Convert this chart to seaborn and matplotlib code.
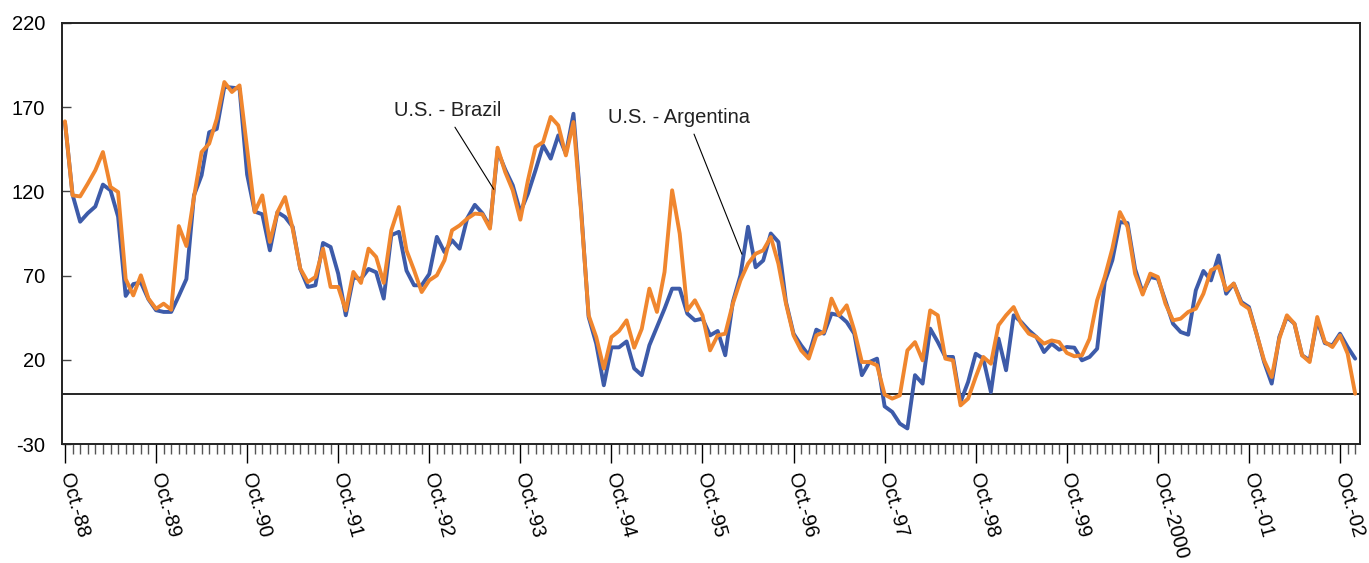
import numpy as np
import pandas as pd
import matplotlib
matplotlib.use("Agg")
import matplotlib.pyplot as plt
import seaborn as sns

# monthly values, Oct-88 .. Dec-02
brazil = [161, 118, 102, 107, 111, 124, 120.6, 105, 58, 65, 66, 56,
          49.5, 48.5, 48.5, 58, 68, 117.6, 129.5, 155, 157, 182, 181.5, 181,
          130, 108, 106.4, 85, 107.7, 104.8, 99, 74, 63.3, 64.3, 89.4, 87,
          71.2, 46.5, 69, 68, 74, 72, 56.4, 94, 96, 73, 64.3, 64.3,
          71, 93, 84, 91, 86, 104, 112, 107, 99, 144, 133, 123.6,
          107.7, 118.6, 132.5, 147.3, 139.4, 153.2, 142.3, 166, 110, 45.5, 29.7, 5,
          27.5, 27.5, 31, 15, 11, 28.7, 39.6, 50.4, 62.3, 62.3, 47.5, 43.5,
          44.5, 34.6, 37.2, 22.8, 54.4, 70.2, 99, 75, 79, 95, 90, 54.4,
          35.6, 28.7, 22.8, 38, 35.6, 47.5, 46.5, 42.5, 35.6, 11, 18.8, 20.8,
          -7.5, -10.8, -17.7, -20.6, 11, 6, 38.6, 30.7, 21.8, 21.8, -4.9, 7,
          23.7, 20.8, 1, 32.7, 13.9, 46.5, 42.5, 37.6, 33.6, 24.7, 29.7, 26.1,
          27.7, 27.3, 19.8, 21.8, 26.7, 66.2, 79.1, 101.8, 101.2, 74, 60, 69.2,
          68.2, 55, 41.5, 36.6, 35, 61.3, 72.8, 67.2, 82, 59.3, 65.3, 54.4,
          51.4, 35.6, 18.8, 6, 33.6, 45.5, 41.5, 22.8, 19.8, 43.5, 30, 28.7,
          35.6, 27.7, 20.8]

argentina = [161.5, 117.6, 117, 124.5, 132.5, 143.3, 122.6, 119.6, 68, 58.3, 70.2, 56.4,
             50.4, 53.4, 49.8, 99.4, 87.6, 116.6, 143.3, 148.3, 163, 184.8, 178.9, 182.8,
             145, 107.7, 117.6, 90, 107.7, 116.6, 97.9, 74.2, 66.2, 69.2, 86, 63.3,
             63.3, 49.4, 72.2, 65.7, 86, 81.1, 65.7, 96.9, 110.7, 85, 73.2, 60.3,
             67.2, 70.2, 79.1, 96.9, 99.8, 103.8, 106.8, 106.4, 97.9, 145.9, 131.5, 120.6,
             103.2, 126.5, 146.3, 149.2, 164.1, 159.1, 141.3, 161.1, 108, 46.5, 33.6, 14.9,
             33.6, 37.2, 43.5, 27.3, 38.5, 62.3, 48.5, 72.2, 120.6, 94.9, 49.4, 55.4,
             46.5, 25.7, 34.6, 35.6, 53.4, 67.2, 77.1, 83, 85, 92.9, 77.1, 53.4,
             34.6, 25.7, 20.8, 34.6, 36.6, 56.4, 46.5, 52.4, 37.6, 18.8, 18.8, 16.8,
             -0.5, -2.9, -1, 25.7, 30.6, 19.8, 49.4, 46.5, 20.8, 19.8, -6.9, -2.9,
             9.9, 21.8, 17.8, 40.6, 46.5, 51.4, 41.5, 35.6, 33.6, 29.7, 31.6, 30.6,
             24.2, 22.2, 22.8, 32.6, 55.4, 69.2, 86, 107.7, 99, 71.2, 58.8, 71.2,
             69.2, 53.4, 43.5, 44.5, 48.5, 50.4, 59.3, 73.2, 75.5, 61.3, 65.3, 53.4,
             50.4, 35.6, 19.8, 9.9, 32.6, 46.5, 41.5, 22.8, 18.8, 45.5, 30.7, 27.7,
             34.6, 23.8, 0]

year_labels = ['Oct.-88', 'Oct.-89', 'Oct.-90', 'Oct.-91', 'Oct.-92', 'Oct.-93', 'Oct.-94',
               'Oct.-95', 'Oct.-96', 'Oct.-97', 'Oct.-98', 'Oct.-99', 'Oct.-2000',
               'Oct.-01', 'Oct.-02']
y_ticks = [-30, 20, 70, 120, 170, 220]

df = pd.DataFrame({'month': np.arange(len(brazil)), 'brazil': brazil, 'argentina': argentina})

sns.set_style("ticks")
plt.rcParams['font.family'] = ['Liberation Sans', 'DejaVu Sans']
plt.rcParams['font.size'] = 14.5
plt.rcParams['axes.unicode_minus'] = False
plt.rcParams['text.color'] = 'black'

fig = plt.figure(figsize=(13.69, 5.63), dpi=100)
ax = fig.add_axes([0.04507, 0.2108, 0.948, 0.7489])

ax.axhline(0, color='black', linewidth=1.2, zorder=1)
sns.lineplot(data=df, x='month', y='brazil', color='#3d5ba9', linewidth=2.8, ax=ax, zorder=2)
sns.lineplot(data=df, x='month', y='argentina', color='#f0862e', linewidth=2.8, ax=ax, zorder=3)

ax.set_xlim(-0.43, 170.57)
ax.set_ylim(-30, 220)
ax.set_xlabel('')
ax.set_ylabel('')

#ticks
ax.set_xticks(np.arange(0, len(brazil), 12))
ax.set_xticks(np.arange(len(brazil)), minor=True)
ax.set_xticklabels(year_labels, rotation=-74.5, ha='left', va='center', rotation_mode='anchor')
ax.tick_params(axis='x', which='major', direction='out', length=13.7, width=1, color='black',
               labelcolor='black', labelsize=14.5, pad=7.5)
ax.tick_params(axis='x', which='minor', direction='out', length=7.2, width=1, color='#555555')
ax.set_yticks(y_ticks)
ax.tick_params(axis='y', direction='in', length=6.5, width=1, color='#444444',
               labelcolor='black', labelsize=14.5, pad=12)

for sp in ax.spines.values():
    sp.set_visible(True)
    sp.set_linewidth(1.4)
    sp.set_color('#222222')

#labels with leader lines
ax.annotate('U.S. - Brazil', xy=(56.5, 121.2), xytext=(50.4, 167.7), ha='center', va='center',
            fontsize=14.5, color='#222222', arrowprops=dict(arrowstyle='-', color='black', lw=0.8,
                                           relpos=(0.53, 0), shrinkA=3, shrinkB=0))
ax.annotate('U.S. - Argentina', xy=(89.2, 82.7), xytext=(80.9, 163.8), ha='center', va='center',
            fontsize=14.5, color='#222222', arrowprops=dict(arrowstyle='-', color='black', lw=0.8,
                                           relpos=(0.586, 0), shrinkA=3, shrinkB=0))

plt.savefig('out.png', dpi=100)
